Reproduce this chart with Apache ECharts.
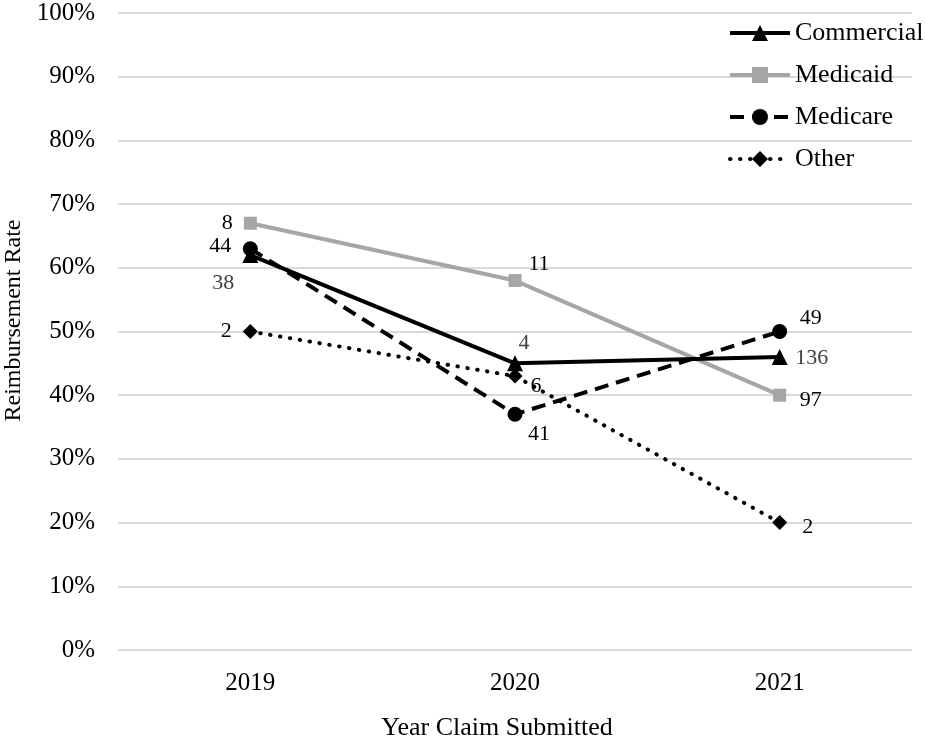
<!DOCTYPE html>
<html>
<head>
<meta charset="utf-8">
<script src="https://cdn.jsdelivr.net/npm/echarts@6/dist/echarts.min.js"></script>
<style>html,body{margin:0;padding:0;background:#fff}#c{width:926px;height:742px}</style>
</head>
<body>
<div id="c"></div>
<script>
const categories = ['2019', '2020', '2021'];
const commercial = [62, 45, 46];
const medicaid = [67, 58, 40];
const medicare = [63, 37, 50];
const other = [50, 43, 20];
const commercialN = ['38', '4', '136'];
const medicaidN = ['8', '11', '97'];
const medicareN = ['44', '41', '49'];
const otherN = ['2', '6', '2'];

const FONT = '"Liberation Serif", "Times New Roman", serif';

function buildData(values, labels, offsets, color) {
  return values.map((v, i) => ({
    value: v,
    label: {
      show: true,
      position: 'inside',
      offset: offsets[i],
      formatter: labels[i],
      color: color,
      fontFamily: FONT,
      fontSize: 22
    }
  }));
}

const chart = echarts.init(document.getElementById('c'));
chart.setOption({
  animation: false,
  grid: { left: 118, right: 14, top: 13, bottom: 92, outerBoundsMode: 'none', containLabel: false },
  legend: {
    orient: 'vertical',
    left: 723,
    top: 15,
    itemWidth: 60,
    itemHeight: 20,
    itemGap: 16,
    lineStyle: { width: 4 },
    textStyle: { fontFamily: FONT, fontSize: 26, color: '#000', lineHeight: 26 },
    data: ['Commercial', 'Medicaid', 'Medicare', 'Other']
  },
  xAxis: {
    type: 'category',
    data: categories,
    boundaryGap: true,
    axisLine: { show: false },
    axisTick: { show: false },
    axisLabel: { fontFamily: FONT, fontSize: 25, color: '#000', margin: 21 },
    name: 'Year Claim Submitted',
    nameLocation: 'middle',
    nameGap: 65,
    nameTextStyle: { fontFamily: FONT, fontSize: 26, color: '#000', padding: [0, 36, 0, 0] }
  },
  yAxis: {
    type: 'value',
    min: 0,
    max: 100,
    interval: 10,
    axisLine: { show: false },
    axisTick: { show: false },
    splitLine: { lineStyle: { color: '#d9d9d9', width: 2 } },
    axisLabel: { formatter: '{value}%', fontFamily: FONT, fontSize: 25, color: '#000', margin: 23 },
    name: 'Reimbursement Rate',
    nameLocation: 'middle',
    nameGap: 91,
    nameRotate: 90,
    nameTextStyle: { fontFamily: FONT, fontSize: 24, color: '#000', padding: [0, 0, 0, 22] }
  },
  series: [
    {
      name: 'Commercial', type: 'line',
      symbol: 'triangle', symbolSize: 16,
      itemStyle: { color: '#000' },
      lineStyle: { color: '#000', width: 4 },
      z: 4,
      data: buildData(commercial, commercialN, [[-27, 28], [9, -20], [32, 1]], '#404040')
    },
    {
      name: 'Medicaid', type: 'line',
      symbol: 'rect', symbolSize: 13,
      itemStyle: { color: '#a6a6a6' },
      lineStyle: { color: '#a6a6a6', width: 4 },
      z: 2,
      data: buildData(medicaid, medicaidN, [[-23, 0], [24, -16], [31, 5]], '#000')
    },
    {
      name: 'Medicare', type: 'line',
      symbol: 'circle', symbolSize: 15,
      itemStyle: { color: '#000' },
      lineStyle: { color: '#000', width: 4, type: [14, 8] },
      z: 3,
      data: buildData(medicare, medicareN, [[-30, -2], [24, 20], [31, -13]], '#000')
    },
    {
      name: 'Other', type: 'line',
      symbol: 'diamond', symbolSize: 15,
      itemStyle: { color: '#000' },
      lineStyle: { color: '#000', width: 4, type: [0.5, 9.5], cap: 'round' },
      z: 3,
      data: buildData(other, otherN, [[-24, 0], [21, 10], [28, 5]], '#000')
    }
  ]
});
</script>
</body>
</html>
